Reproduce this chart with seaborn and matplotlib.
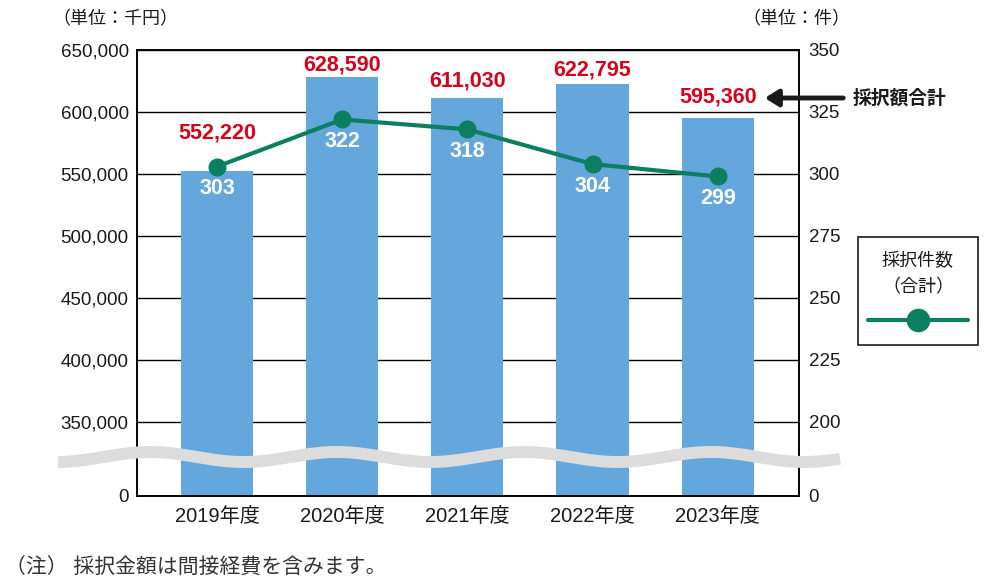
import numpy as np
import pandas as pd
import matplotlib
matplotlib.use("Agg")
import matplotlib.pyplot as plt
import seaborn as sns
from matplotlib.patches import Rectangle, FancyArrowPatch
from matplotlib.lines import Line2D
from matplotlib.ticker import FuncFormatter

# --- data ---
years = ["2019年度", "2020年度", "2021年度", "2022年度", "2023年度"]
amounts = [552220, 628590, 611030, 622795, 595360]   # 採択額合計 (千円)
counts = [303, 322, 318, 304, 299]                   # 採択件数 (件)
left_ticks = [0, 350000, 400000, 450000, 500000, 550000, 600000, 650000]
right_ticks = [0, 200, 225, 250, 275, 300, 325, 350]

# layout: how far (px) each red amount label sits above its bar top
amount_label_gap = [38, 11.5, 17, 14, 21]

BAR = "#64a7dc"
LINE = "#0b7f5f"
RED = "#d9001b"
WAVE = "#dcdcdc"
INK = "#1a1a1a"

sns.set_theme(style="white")
plt.rcParams["font.family"] = ["Liberation Sans", "Noto Sans CJK JP"]


# broken axis: 0..break squeezed into the bottom strip, the rest linear
def make_scale(brk, step):
    def fwd(v):
        v = np.asarray(v, dtype=float)
        return np.where(v < brk, v / brk * 74, 74 + (v - brk) / step * 62)

    def inv(u):
        u = np.asarray(u, dtype=float)
        return np.where(u < 74, u / 74 * brk, brk + (u - 74) / 62 * step)
    return fwd, inv


df = pd.DataFrame({"year": years, "amount": amounts, "count": counts})

fig = plt.figure(figsize=(10.02, 5.85), dpi=100)
W, H = 1002, 585
ax = fig.add_axes([137 / W, 89 / H, 662 / W, 446 / H])

sns.barplot(data=df, x="year", y="amount", color=BAR, width=0.576,
            saturation=1, linewidth=0, ax=ax, zorder=2)
ax.set_yscale("function", functions=make_scale(350000, 50000))
ax.set_ylim(0, 650000)
ax.set_xlim(-0.64, 4.65)
ax.set_yticks(left_ticks)
ax.yaxis.set_major_formatter(FuncFormatter(lambda v, p: f"{int(v):,}"))
ax.set_axisbelow(True)
ax.grid(axis="y", color="black", linewidth=1)
ax.set_xlabel("")
ax.set_ylabel("")
ax.tick_params(axis="both", length=0, labelsize=13.5, colors=INK)
ax.tick_params(axis="y", pad=6)
ax.tick_params(axis="x", pad=8, labelsize=14.5)
for s in ax.spines.values():
    s.set_color("black")
    s.set_linewidth(1.2)

ax2 = ax.twinx()
ax2.set_yscale("function", functions=make_scale(200, 25))
sns.lineplot(x=df.index, y=df["count"], ax=ax2, color=LINE, linewidth=3,
             marker="o", markersize=13, markeredgewidth=0, zorder=4)
ax2.set_ylim(0, 350)
ax2.set_yticks(right_ticks)
ax2.set_ylabel("")
ax2.tick_params(axis="y", length=0, labelsize=13.5, pad=7, colors=INK)
for s in ax2.spines.values():
    s.set_color("black")
    s.set_linewidth(1.2)

# value labels
for i, (a, c) in enumerate(zip(amounts, counts)):
    ax.annotate(f"{a:,}", xy=(i, a), xytext=(0, amount_label_gap[i] * 0.72),
                textcoords="offset points", ha="center", va="center",
                color=RED, fontsize=15.5, fontweight="bold", zorder=6,
                annotation_clip=False)
    ax2.annotate(f"{c}", xy=(i, c), xytext=(0, -22 * 0.72),
                 textcoords="offset points", ha="center", va="center",
                 color="white", fontsize=15.5, fontweight="bold", zorder=6)

# axis-break wave across the bottom strip
wx = np.linspace(58, 840, 400)
wy = 585 - (457 - 5 * np.cos((wx - 150) / 187 * 2 * np.pi))
ax2.add_line(Line2D(wx / W, wy / H, transform=fig.transFigure, color=WAVE,
                    linewidth=8.6, solid_capstyle="butt", zorder=5,
                    clip_on=False))

# units
fig.text(52 / W, 1 - 20 / H, "（単位：千円）", fontsize=13, ha="left",
         va="center", color=INK)
fig.text(850 / W, 1 - 20 / H, "（単位：件）", fontsize=13, ha="right",
         va="center", color=INK)

# callout for the amount series
fig.text(853 / W, 1 - 98 / H, "採択額合計", fontsize=13.5, fontweight="bold",
         ha="left", va="center", color=INK)
fig.add_artist(FancyArrowPatch(
    (846 / W, 1 - 98 / H), (762 / W, 1 - 98 / H), transform=fig.transFigure,
    arrowstyle="-|>,head_length=8,head_width=5", mutation_scale=1,
    linewidth=3.5, color=INK))

# legend box for the count series
fig.add_artist(Rectangle((858 / W, 1 - 345 / H), 120 / W, 108 / H,
                         transform=fig.transFigure, facecolor="white",
                         edgecolor=INK, linewidth=1.2))
fig.text(918 / W, 1 - 262 / H, "採択件数", fontsize=13, ha="center",
         va="center", color=INK)
fig.text(918 / W, 1 - 288 / H, "（合計）", fontsize=13, ha="center",
         va="center", color=INK)
fig.add_artist(Line2D([868 / W, 968 / W], [1 - 320 / H] * 2,
                      transform=fig.transFigure, color=LINE, linewidth=3))
fig.add_artist(Line2D([918 / W], [1 - 320 / H], transform=fig.transFigure,
                      color=LINE, marker="o", markersize=17,
                      markeredgewidth=0))

fig.text(5 / W, 1 - 568 / H, "（注） 採択金額は間接経費を含みます。",
         fontsize=15, ha="left", va="center", color="#333333")

fig.savefig("out.png", dpi=100)
